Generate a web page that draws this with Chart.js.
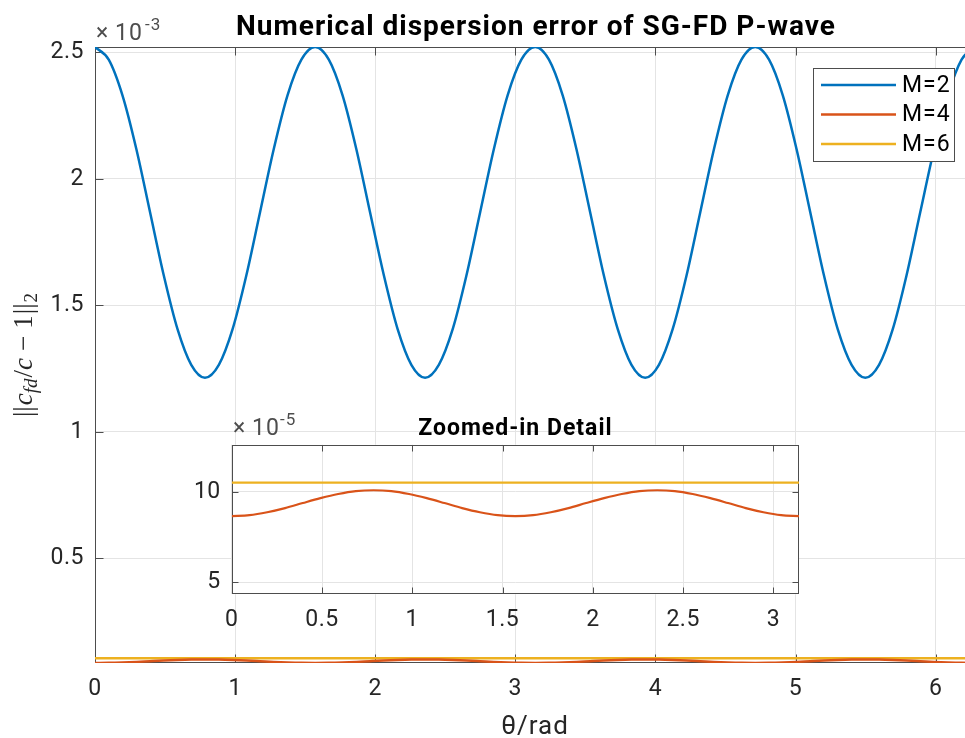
<!DOCTYPE html>
<html>
<head>
<meta charset="utf-8">
<script src="https://cdn.jsdelivr.net/npm/chart.js@4.4.1/dist/chart.umd.min.js"></script>
<style>
  html, body { margin: 0; padding: 0; background: #fff; overflow: hidden; }
  #wrap { position: relative; width: 965px; height: 738px; overflow: hidden; }
  #main { position: absolute; left: 0; top: 0; }
  #inset { position: absolute; left: 160px; top: 400px; }
</style>
</head>
<body>
<div id="wrap">
  <canvas id="main" width="980" height="738"></canvas>
  <canvas id="inset" width="660" height="240"></canvas>
</div>
<script>
// angle (rad)
const theta = [
  0.000, 0.098, 0.196, 0.295, 0.393, 0.491, 0.589, 0.687, 0.785, 0.884, 0.982, 1.080, 1.178, 1.276, 1.374, 1.473,
  1.571, 1.669, 1.767, 1.865, 1.963, 2.062, 2.160, 2.258, 2.356, 2.454, 2.553, 2.651, 2.749, 2.847, 2.945, 3.043,
  3.142, 3.240, 3.338, 3.436, 3.534, 3.632, 3.731, 3.829, 3.927, 4.025, 4.123, 4.222, 4.320, 4.418, 4.516, 4.614,
  4.712, 4.811, 4.909, 5.007, 5.105, 5.203, 5.301, 5.400, 5.498, 5.596, 5.694, 5.792, 5.890, 5.989, 6.087, 6.185,
  6.283
];

// M=2 error
const errM2 = [
  2.521e-3, 2.471e-3, 2.330e-3, 2.118e-3, 1.868e-3, 1.618e-3, 1.406e-3, 1.265e-3, 1.214e-3, 1.265e-3, 1.406e-3, 1.618e-3, 1.868e-3, 2.118e-3, 2.330e-3, 2.471e-3,
  2.521e-3, 2.471e-3, 2.330e-3, 2.118e-3, 1.868e-3, 1.618e-3, 1.406e-3, 1.265e-3, 1.214e-3, 1.265e-3, 1.406e-3, 1.618e-3, 1.868e-3, 2.118e-3, 2.330e-3, 2.471e-3,
  2.521e-3, 2.471e-3, 2.330e-3, 2.118e-3, 1.868e-3, 1.618e-3, 1.406e-3, 1.265e-3, 1.214e-3, 1.265e-3, 1.406e-3, 1.618e-3, 1.868e-3, 2.118e-3, 2.330e-3, 2.471e-3,
  2.521e-3, 2.471e-3, 2.330e-3, 2.118e-3, 1.868e-3, 1.618e-3, 1.406e-3, 1.265e-3, 1.214e-3, 1.265e-3, 1.406e-3, 1.618e-3, 1.868e-3, 2.118e-3, 2.330e-3, 2.471e-3,
  2.521e-3
];

// M=4 error
const errM4 = [
  8.66e-5, 8.71e-5, 8.87e-5, 9.10e-5, 9.38e-5, 9.65e-5, 9.88e-5, 10.04e-5, 10.09e-5, 10.04e-5, 9.88e-5, 9.65e-5, 9.38e-5, 9.10e-5, 8.87e-5, 8.71e-5,
  8.66e-5, 8.71e-5, 8.87e-5, 9.10e-5, 9.38e-5, 9.65e-5, 9.88e-5, 10.04e-5, 10.09e-5, 10.04e-5, 9.88e-5, 9.65e-5, 9.38e-5, 9.10e-5, 8.87e-5, 8.71e-5,
  8.66e-5, 8.71e-5, 8.87e-5, 9.10e-5, 9.38e-5, 9.65e-5, 9.88e-5, 10.04e-5, 10.09e-5, 10.04e-5, 9.88e-5, 9.65e-5, 9.38e-5, 9.10e-5, 8.87e-5, 8.71e-5,
  8.66e-5, 8.71e-5, 8.87e-5, 9.10e-5, 9.38e-5, 9.65e-5, 9.88e-5, 10.04e-5, 10.09e-5, 10.04e-5, 9.88e-5, 9.65e-5, 9.38e-5, 9.10e-5, 8.87e-5, 8.71e-5,
  8.66e-5
];

// M=6 error (flat)
const errM6 = [
  10.51e-5, 10.51e-5, 10.51e-5, 10.51e-5, 10.51e-5, 10.51e-5, 10.51e-5, 10.51e-5, 10.51e-5, 10.51e-5, 10.51e-5, 10.51e-5, 10.51e-5, 10.51e-5, 10.51e-5, 10.51e-5,
  10.51e-5, 10.51e-5, 10.51e-5, 10.51e-5, 10.51e-5, 10.51e-5, 10.51e-5, 10.51e-5, 10.51e-5, 10.51e-5, 10.51e-5, 10.51e-5, 10.51e-5, 10.51e-5, 10.51e-5, 10.51e-5,
  10.51e-5, 10.51e-5, 10.51e-5, 10.51e-5, 10.51e-5, 10.51e-5, 10.51e-5, 10.51e-5, 10.51e-5, 10.51e-5, 10.51e-5, 10.51e-5, 10.51e-5, 10.51e-5, 10.51e-5, 10.51e-5,
  10.51e-5, 10.51e-5, 10.51e-5, 10.51e-5, 10.51e-5, 10.51e-5, 10.51e-5, 10.51e-5, 10.51e-5, 10.51e-5, 10.51e-5, 10.51e-5, 10.51e-5, 10.51e-5, 10.51e-5, 10.51e-5,
  10.51e-5
];

const seriesLabels = ['M=2', 'M=4', 'M=6'];
const seriesColors = ['#0072BD', '#D95319', '#EDB120'];

const mainXTicks = [0, 1, 2, 3, 4, 5, 6];
const mainYTicks = [0.5e-3, 1e-3, 1.5e-3, 2e-3, 2.5e-3];
const insetXTicks = [0, 0.5, 1, 1.5, 2, 2.5, 3];
const insetYTicks = [5e-5, 10e-5];

const FONT = 'Roboto, "Liberation Sans", sans-serif';
const AXIS_COLOR = '#4d4d4d';
const TEXT_COLOR = '#262626';
const GRID_COLOR = '#e4e4e4';

const fmtNum = v => String(parseFloat(v.toFixed(4)));

// 枠と内向きの目盛り（MATLAB風）
const axesBox = {
  id: 'axesBox',
  beforeDraw(chart, args, opts) {
    chart.ctx.letterSpacing = opts.spacing || '0px';
    if (!opts.fill) return;
    const { ctx, chartArea: a } = chart;
    ctx.save();
    ctx.fillStyle = opts.fill;
    ctx.fillRect(a.left, a.top, a.right - a.left, a.bottom - a.top);
    ctx.restore();
  },
  beforeDatasetsDraw(chart, args, opts) {
    const { ctx, chartArea: a, scales } = chart;
    const L = Math.round(a.left) + 0.5, R = Math.round(a.right) - 0.5;
    const T = Math.round(a.top) + 0.5, B = Math.round(a.bottom) - 0.5;
    const len = opts.len || 7;
    ctx.save();
    ctx.strokeStyle = AXIS_COLOR;
    ctx.lineWidth = 1;
    ctx.strokeRect(L, T, R - L, B - T);
    ctx.beginPath();
    scales.x.ticks.forEach(t => {
      const px = Math.round(scales.x.getPixelForValue(t.value)) + 0.5;
      ctx.moveTo(px, B); ctx.lineTo(px, B - len);
      ctx.moveTo(px, T); ctx.lineTo(px, T + len);
    });
    scales.y.ticks.forEach(t => {
      const py = Math.round(scales.y.getPixelForValue(t.value)) + 0.5;
      ctx.moveTo(L, py); ctx.lineTo(L + len, py);
      ctx.moveTo(R, py); ctx.lineTo(R - len, py);
    });
    ctx.stroke();
    ctx.restore();
  },
  afterDraw(chart) {
    chart.ctx.letterSpacing = '0px';
  }
};

// 指数ラベル「×10^n」
const drawExponent = (ctx, x, x10, xPow, y, power) => {
  ctx.save();
  ctx.letterSpacing = '0px';
  ctx.fillStyle = AXIS_COLOR;
  ctx.textBaseline = 'alphabetic';
  ctx.textAlign = 'left';
  ctx.font = `23px ${FONT}`;
  ctx.fillText('×', x, y);
  ctx.letterSpacing = '1px';
  ctx.fillText('10', x10, y);
  ctx.font = `17px ${FONT}`;
  ctx.fillText(power, xPow, y - 10);
  ctx.restore();
};

// 複数フォントの文字列を横に並べる
const drawRich = (ctx, parts, x, y) => {
  let total = 0;
  parts.forEach(p => {
    ctx.font = p.font;
    p.w = ctx.measureText(p.text).width + (p.gap || 0);
    total += p.w;
  });
  let cx = x - total / 2;
  parts.forEach(p => {
    ctx.font = p.font;
    ctx.fillText(p.text, cx, y + (p.dy || 0));
    cx += p.w;
  });
};

const SERIF = '"Liberation Serif", "DejaVu Serif", serif';
const yLabelParts = [
  { text: '||', font: `27px ${SERIF}`, gap: 1 },
  { text: 'c', font: `italic 27px ${SERIF}` },
  { text: 'fd', font: `italic 19px ${SERIF}`, dy: 5, gap: 1 },
  { text: '/', font: `27px ${SERIF}` },
  { text: 'c', font: `italic 27px ${SERIF}`, gap: 7 },
  { text: '\u2212', font: `27px ${SERIF}`, gap: 7 },
  { text: '1', font: `27px ${SERIF}`, gap: 1 },
  { text: '||', font: `27px ${SERIF}`, gap: 1 },
  { text: '2', font: `19px ${SERIF}`, dy: 5 }
];

const mainDecor = {
  id: 'mainDecor',
  afterDraw(chart) {
    const { ctx, chartArea: a } = chart;
    ctx.save();
    // タイトル
    ctx.fillStyle = '#000';
    ctx.font = `bold 28px ${FONT}`;
    ctx.letterSpacing = '1px';
    ctx.textAlign = 'center';
    ctx.textBaseline = 'alphabetic';
    ctx.fillText('Numerical dispersion error of SG-FD P-wave', 536, 35);
    // x軸ラベル
    ctx.fillStyle = TEXT_COLOR;
    ctx.font = `26px ${FONT}`;
    ctx.fillText('θ/rad', 535, 734);
    // y軸ラベル
    ctx.letterSpacing = '0px';
    ctx.translate(32, (a.top + a.bottom) / 2);
    ctx.rotate(-Math.PI / 2);
    ctx.textAlign = 'left';
    drawRich(ctx, yLabelParts, 0, 0);
    ctx.restore();

    drawExponent(ctx, 96, 115, 145, 40, '-3');

    // 凡例
    ctx.save();
    const bx = 813.5, by = 68.5, bw = 141, bh = 93;
    ctx.fillStyle = '#fff';
    ctx.fillRect(bx, by, bw, bh);
    ctx.strokeStyle = AXIS_COLOR;
    ctx.lineWidth = 1;
    ctx.strokeRect(bx, by, bw, bh);
    ctx.font = `23px ${FONT}`;
    ctx.letterSpacing = '1px';
    ctx.textAlign = 'left';
    ctx.textBaseline = 'middle';
    chart.data.datasets.forEach((ds, i) => {
      const ry = 85 + i * 29.5;
      ctx.strokeStyle = ds.borderColor;
      ctx.lineWidth = 2.4;
      ctx.beginPath();
      ctx.moveTo(821, ry);
      ctx.lineTo(896, ry);
      ctx.stroke();
      ctx.fillStyle = '#000';
      ctx.fillText(ds.label, 902, ry + 1);
    });
    ctx.restore();
  }
};

const insetDecor = {
  id: 'insetDecor',
  afterDraw(chart) {
    const { ctx, chartArea: a } = chart;
    ctx.save();
    ctx.fillStyle = '#000';
    ctx.font = `bold 23px ${FONT}`;
    ctx.letterSpacing = '1px';
    ctx.textAlign = 'center';
    ctx.textBaseline = 'alphabetic';
    ctx.fillText('Zoomed-in Detail', (a.left + a.right) / 2, 35);
    ctx.restore();
    drawExponent(ctx, 73, 92, 120, 35, '-5');
  }
};

const makeDatasets = (n, width) => [errM2, errM4, errM6].map((vals, i) => ({
  label: seriesLabels[i],
  data: theta.slice(0, n).map((t, j) => ({ x: t, y: vals[j] })),
  borderColor: seriesColors[i],
  borderWidth: width,
  pointRadius: 0,
  cubicInterpolationMode: 'monotone',
  fill: false
}));

const tickFont = { family: FONT, size: 23 };

const makeScales = (xTicks, yTicks, xMax, yMin, yMax, yWidth, xHeight, yFmt) => ({
  x: {
    type: 'linear', min: 0, max: xMax,
    afterBuildTicks: s => { s.ticks = xTicks.map(v => ({ value: v })); },
    afterFit: s => { s.height = xHeight; },
    grid: { color: GRID_COLOR, drawTicks: false },
    border: { display: false },
    ticks: { font: tickFont, color: TEXT_COLOR, padding: 12, maxRotation: 0, autoSkip: false, callback: v => fmtNum(v) }
  },
  y: {
    type: 'linear', min: yMin, max: yMax,
    afterBuildTicks: s => { s.ticks = yTicks.map(v => ({ value: v })); },
    afterFit: s => { s.width = yWidth; },
    grid: { color: GRID_COLOR, drawTicks: false },
    border: { display: false },
    ticks: { font: tickFont, color: TEXT_COLOR, padding: 11, autoSkip: false, callback: yFmt }
  }
});

new Chart(document.getElementById('main'), {
  type: 'line',
  data: { datasets: makeDatasets(theta.length, 2.5) },
  options: {
    responsive: false,
    animation: false,
    layout: { padding: { top: 47, right: 4.7, left: 0, bottom: 0 } },
    plugins: {
      legend: { display: false },
      tooltip: { enabled: false },
      axesBox: { len: 8, spacing: '0.5px' }
    },
    scales: makeScales(mainXTicks, mainYTicks, 6.283, 8.66e-5, 2.521e-3, 95, 75, v => fmtNum(v * 1e3))
  },
  plugins: [axesBox, mainDecor]
});

// 拡大図（θ = 0..π）
new Chart(document.getElementById('inset'), {
  type: 'line',
  data: { datasets: makeDatasets(33, 2.2).slice(1) },
  options: {
    responsive: false,
    animation: false,
    layout: { padding: { top: 44.7, right: 21, left: 0, bottom: 0 } },
    plugins: {
      legend: { display: false },
      tooltip: { enabled: false },
      axesBox: { len: 6, fill: '#fff', spacing: '0.5px' }
    },
    scales: makeScales(insetXTicks, insetYTicks, 3.142, 4.33e-5, 12.61e-5, 71.8, 45.7, v => fmtNum(v * 1e5))
  },
  plugins: [axesBox, insetDecor]
});
</script>
</body>
</html>
